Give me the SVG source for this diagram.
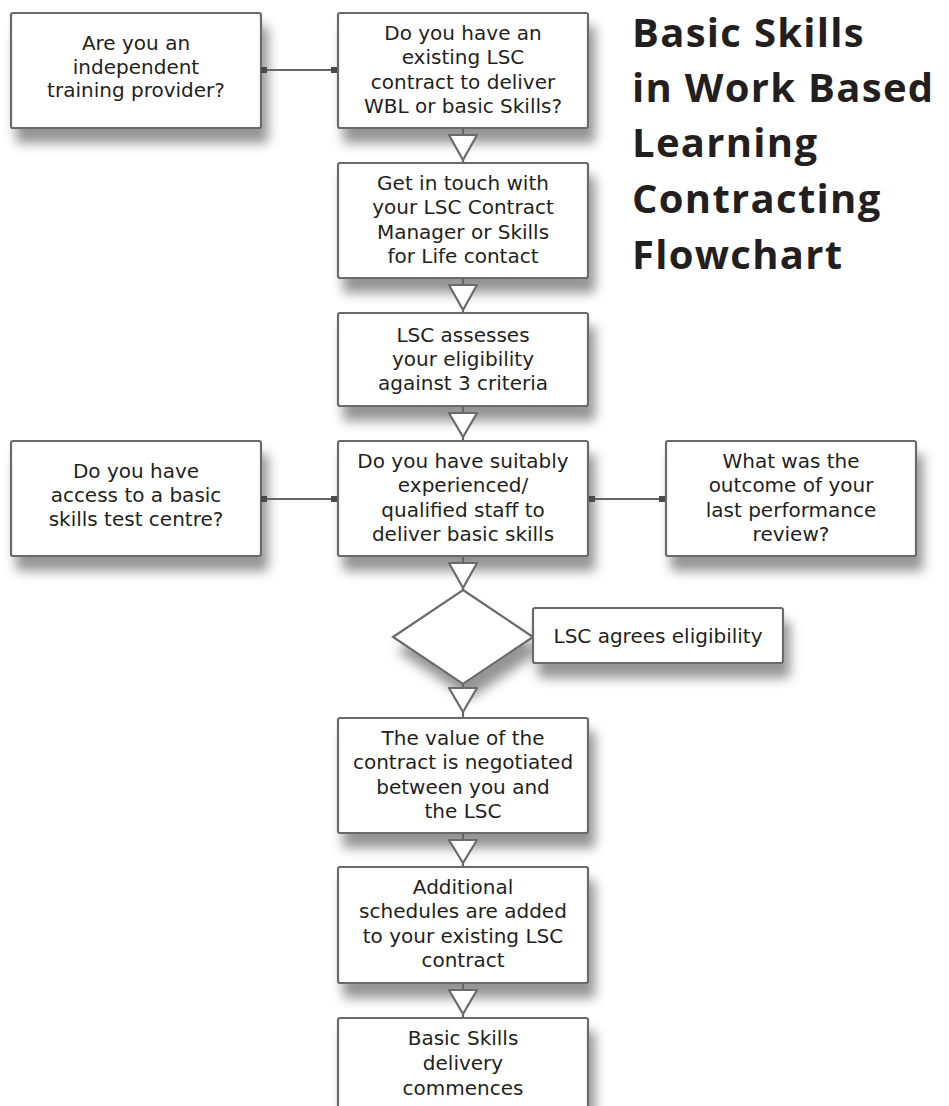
<svg xmlns="http://www.w3.org/2000/svg" width="949" height="1106" viewBox="0 0 949 1106">
  <style>
    .box { fill: #ffffff; stroke: #6a6a6a; stroke-width: 2.2; filter: url(#shadow); }
    .txt { font-family: "DejaVu Sans", "Liberation Sans", sans-serif; font-size: 20px; fill: #231f20; text-anchor: middle; }
    .title { font-family: "Open Sans", "Liberation Sans", sans-serif; font-size: 40px; font-weight: 700; fill: #231f20; letter-spacing: 1.3px; }
    .line { stroke: #666666; stroke-width: 2.2; fill: none; }
    .tri { fill: #ffffff; stroke: #6a6a6a; stroke-width: 2.2; stroke-linejoin: round; }
  </style>
  <defs>
    <filter id="shadow" x="-10%" y="-20%" width="130%" height="170%">
      <feDropShadow dx="6" dy="14" stdDeviation="6" flood-color="#000000" flood-opacity="0.42"/>
    </filter>
    <marker id="tick" viewBox="0 0 6 6" refX="3" refY="3" markerWidth="6" markerHeight="6" markerUnits="userSpaceOnUse">
      <rect x="0" y="0" width="6" height="6" fill="#4a4a4a"/>
    </marker>
  </defs>
  <rect width="949" height="1106" fill="#ffffff"/>

  <g id="title">
    <text class="title" x="632" y="47">Basic Skills</text>
    <text class="title" x="632" y="102">in Work Based</text>
    <text class="title" x="632" y="157">Learning</text>
    <text class="title" x="632" y="213">Contracting</text>
    <text class="title" x="632" y="269">Flowchart</text>
  </g>

  <g id="n-independent">
    <rect class="box" x="11" y="13" width="250" height="115" rx="2"/>
    <text class="txt" x="136" y="50">Are you an</text>
    <text class="txt" x="136" y="73.5">independent</text>
    <text class="txt" x="136" y="97">training provider?</text>
  </g>

  <g id="n-existing">
    <rect class="box" x="338" y="13" width="250" height="115" rx="2"/>
    <text class="txt" x="463" y="40">Do you have an</text>
    <text class="txt" x="463" y="64">existing LSC</text>
    <text class="txt" x="463" y="88.5">contract to deliver</text>
    <text class="txt" x="463" y="113">WBL or basic Skills?</text>
  </g>

  <g id="n-touch">
    <rect class="box" x="338" y="163" width="250" height="115" rx="2"/>
    <text class="txt" x="463" y="190">Get in touch with</text>
    <text class="txt" x="463" y="214">your LSC Contract</text>
    <text class="txt" x="463" y="238.5">Manager or Skills</text>
    <text class="txt" x="463" y="263">for Life contact</text>
  </g>

  <g id="n-assess">
    <rect class="box" x="338" y="313" width="250" height="93" rx="2"/>
    <text class="txt" x="463" y="342">LSC assesses</text>
    <text class="txt" x="463" y="366">your eligibility</text>
    <text class="txt" x="463" y="390">against 3 criteria</text>
  </g>

  <g id="n-testcentre">
    <rect class="box" x="11" y="441" width="250" height="115" rx="2"/>
    <text class="txt" x="136" y="478">Do you have</text>
    <text class="txt" x="136" y="502">access to a basic</text>
    <text class="txt" x="136" y="526">skills test centre?</text>
  </g>

  <g id="n-staff">
    <rect class="box" x="338" y="441" width="250" height="115" rx="2"/>
    <text class="txt" x="463" y="468">Do you have suitably</text>
    <text class="txt" x="463" y="492">experienced/</text>
    <text class="txt" x="463" y="516.5">qualified staff to</text>
    <text class="txt" x="463" y="541">deliver basic skills</text>
  </g>

  <g id="n-review">
    <rect class="box" x="666" y="441" width="250" height="115" rx="2"/>
    <text class="txt" x="791" y="468">What was the</text>
    <text class="txt" x="791" y="492">outcome of your</text>
    <text class="txt" x="791" y="516.5">last performance</text>
    <text class="txt" x="791" y="541">review?</text>
  </g>

  <g id="n-decision">
    <polygon class="box" points="463,590 533,637 463,684 393,637"/>
  </g>

  <g id="n-agrees">
    <rect class="box" x="533" y="608" width="250" height="55" rx="2"/>
    <text class="txt" x="658" y="643">LSC agrees eligibility</text>
  </g>

  <g id="n-value">
    <rect class="box" x="338" y="718" width="250" height="115" rx="2"/>
    <text class="txt" x="463" y="745">The value of the</text>
    <text class="txt" x="463" y="769">contract is negotiated</text>
    <text class="txt" x="463" y="793.5">between you and</text>
    <text class="txt" x="463" y="818">the LSC</text>
  </g>

  <g id="n-schedules">
    <rect class="box" x="338" y="867" width="250" height="116" rx="2"/>
    <text class="txt" x="463" y="894">Additional</text>
    <text class="txt" x="463" y="918">schedules are added</text>
    <text class="txt" x="463" y="942.5">to your existing LSC</text>
    <text class="txt" x="463" y="967">contract</text>
  </g>

  <g id="n-delivery">
    <rect class="box" x="338" y="1018" width="250" height="110" rx="2"/>
    <text class="txt" x="463" y="1045">Basic Skills</text>
    <text class="txt" x="463" y="1070">delivery</text>
    <text class="txt" x="463" y="1095">commences</text>
  </g>

  <g id="connectors">
    <line class="line" x1="264" y1="70" x2="334" y2="70" marker-start="url(#tick)" marker-end="url(#tick)"/>
    <line class="line" x1="264" y1="499" x2="334" y2="499" marker-start="url(#tick)" marker-end="url(#tick)"/>
    <line class="line" x1="592" y1="499" x2="662" y2="499" marker-start="url(#tick)" marker-end="url(#tick)"/>

    <line class="line" x1="463" y1="128" x2="463" y2="163"/>
    <polygon class="tri" points="449,135 477,135 463,160"/>
    <line class="line" x1="463" y1="278" x2="463" y2="313"/>
    <polygon class="tri" points="449,285 477,285 463,310"/>
    <line class="line" x1="463" y1="406" x2="463" y2="441"/>
    <polygon class="tri" points="449,413 477,413 463,437"/>
    <line class="line" x1="463" y1="556" x2="463" y2="590"/>
    <polygon class="tri" points="449,563 477,563 463,588"/>
    <line class="line" x1="463" y1="684" x2="463" y2="718"/>
    <polygon class="tri" points="449,688 477,688 463,712"/>
    <line class="line" x1="463" y1="833" x2="463" y2="867"/>
    <polygon class="tri" points="449,840 477,840 463,863"/>
    <line class="line" x1="463" y1="983" x2="463" y2="1018"/>
    <polygon class="tri" points="449,990 477,990 463,1014"/>
  </g>
</svg>
